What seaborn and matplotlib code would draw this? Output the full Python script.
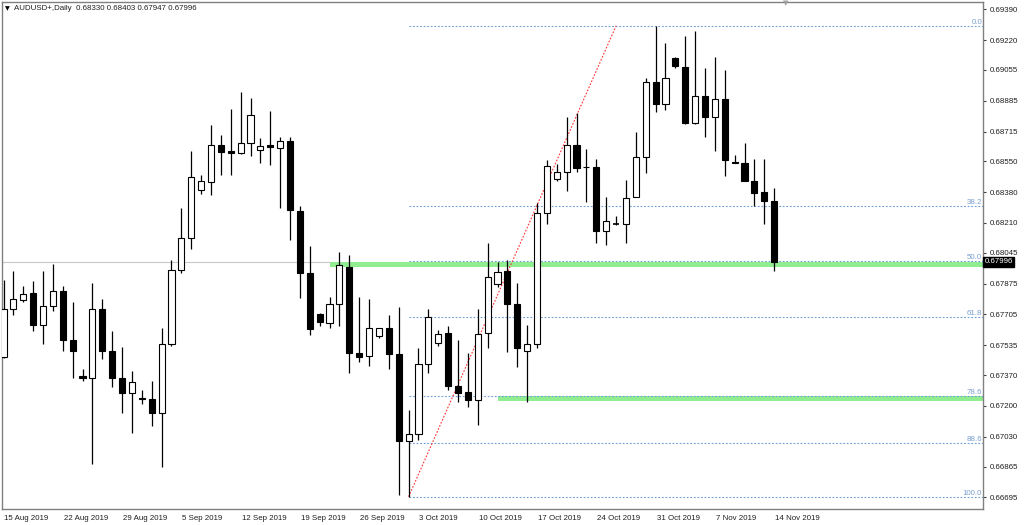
import matplotlib
matplotlib.use("Agg")
import matplotlib.pyplot as plt
import matplotlib.transforms as mtransforms
import seaborn as sns

# ---------------- data ----------------
title_text = "AUDUSD+,Daily  0.68330 0.68403 0.67947 0.67996"

opens = [0.67470, 0.67733, 0.67783, 0.67825, 0.67647, 0.67751, 0.67833, 0.67565, 0.67365, 0.67352,
         0.67735, 0.67503, 0.67356, 0.67273, 0.67243, 0.67236, 0.67162, 0.67540, 0.67949, 0.68127,
         0.68392, 0.68438, 0.68639, 0.68607, 0.68598, 0.68650, 0.68611, 0.68639, 0.68626, 0.68663,
         0.68278, 0.67932, 0.67706, 0.67659, 0.67761, 0.67968, 0.67490, 0.67475, 0.67587, 0.67632,
         0.67485, 0.67006, 0.67043, 0.67429, 0.67545, 0.67601, 0.67311, 0.67275, 0.67231, 0.67601,
         0.67871, 0.67945, 0.67763, 0.67505, 0.67540, 0.68267, 0.68454, 0.68490, 0.68639, 0.68521,
         0.68517, 0.68166, 0.68204, 0.68203, 0.68352, 0.68573, 0.68990, 0.68867, 0.69119, 0.69073,
         0.68760, 0.68911, 0.68797, 0.68893, 0.68548, 0.68543, 0.68443, 0.68381, 0.68330]
highs = [0.67895, 0.67943, 0.67862, 0.67888, 0.67943, 0.67983, 0.67862, 0.67772, 0.67402, 0.67877,
         0.67790, 0.67615, 0.67527, 0.67393, 0.67288, 0.67337, 0.67632, 0.68005, 0.68294, 0.68607,
         0.68475, 0.68749, 0.68696, 0.68838, 0.68935, 0.68898, 0.68678, 0.68830, 0.68686, 0.68686,
         0.68304, 0.68084, 0.67713, 0.67803, 0.68048, 0.68033, 0.67803, 0.67788, 0.67632, 0.67700,
         0.67748, 0.67177, 0.67521, 0.67733, 0.67619, 0.67643, 0.67564, 0.67490, 0.67735, 0.68098,
         0.67993, 0.68005, 0.67880, 0.67647, 0.68322, 0.68558, 0.68534, 0.68794, 0.68816, 0.68617,
         0.68563, 0.68352, 0.68250, 0.68446, 0.68711, 0.69012, 0.69298, 0.69202, 0.69128, 0.69243,
         0.69272, 0.69064, 0.69128, 0.69055, 0.68585, 0.68650, 0.68563, 0.68563, 0.68403]
lows = [0.67464, 0.67700, 0.67774, 0.67612, 0.67540, 0.67722, 0.67503, 0.67352, 0.67337, 0.66877,
        0.67457, 0.67306, 0.67162, 0.67052, 0.67210, 0.67089, 0.66864, 0.67531, 0.67935, 0.68065,
        0.68368, 0.68364, 0.68475, 0.68475, 0.68591, 0.68580, 0.68543, 0.68530, 0.68294, 0.68116,
        0.67794, 0.67591, 0.67643, 0.67628, 0.67643, 0.67380, 0.67444, 0.67420, 0.67573, 0.67402,
        0.66708, 0.66698, 0.67011, 0.67380, 0.67531, 0.67288, 0.67223, 0.67195, 0.67094, 0.67521,
        0.67858, 0.67499, 0.67416, 0.67223, 0.67521, 0.68203, 0.68443, 0.68388, 0.68493, 0.68327,
        0.68101, 0.68087, 0.68200, 0.68101, 0.68352, 0.68484, 0.68821, 0.68834, 0.69064, 0.68755,
        0.68755, 0.68683, 0.68609, 0.68469, 0.68540, 0.68440, 0.68304, 0.68204, 0.67947]
closes = [0.67735, 0.67788, 0.67816, 0.67647, 0.67750, 0.67833, 0.67565, 0.67503, 0.67356, 0.67735,
          0.67503, 0.67356, 0.67273, 0.67333, 0.67238, 0.67162, 0.67540, 0.67949, 0.68125, 0.68466,
          0.68440, 0.68639, 0.68604, 0.68598, 0.68650, 0.68805, 0.68633, 0.68630, 0.68663, 0.68282,
          0.67935, 0.67623, 0.67665, 0.67761, 0.67976, 0.67490, 0.67471, 0.67628, 0.67632, 0.67485,
          0.67006, 0.67043, 0.67429, 0.67692, 0.67598, 0.67311, 0.67269, 0.67232, 0.67598, 0.67913,
          0.67938, 0.67761, 0.67520, 0.67540, 0.68267, 0.68525, 0.68493, 0.68639, 0.68512, 0.68517,
          0.68166, 0.68221, 0.68201, 0.68350, 0.68573, 0.68990, 0.68867, 0.69009, 0.69077, 0.68760,
          0.68911, 0.68797, 0.68893, 0.68558, 0.68542, 0.68443, 0.68377, 0.68331, 0.67996]

tick_bars = [0, 6, 12, 18, 24, 30, 36, 42, 48, 54, 60, 66, 72, 78]
tick_labels = ["15 Aug 2019", "22 Aug 2019", "29 Aug 2019", "5 Sep 2019", "12 Sep 2019",
               "19 Sep 2019", "26 Sep 2019", "3 Oct 2019", "10 Oct 2019", "17 Oct 2019",
               "24 Oct 2019", "31 Oct 2019", "7 Nov 2019", "14 Nov 2019"]
price_ticks = [0.69390, 0.69220, 0.69055, 0.68885, 0.68715, 0.68550, 0.68380, 0.68210, 0.68045,
               0.67875, 0.67705, 0.67535, 0.67370, 0.67200, 0.67030, 0.66865, 0.66695]

fib_levels = [0.0, 38.2, 50.0, 61.8, 78.6, 88.6, 100.0]
fib_high = 0.69298
fib_low = 0.66698
fib_low_bar = 41
fib_high_bar = 62

zone_tops = [0.67996, 0.67254]
zone_bottoms = [0.67967, 0.67226]
zone_start_bars = [33, 50]

last_price = 0.67996

# ---------------- style ----------------
sns.set_theme(style="white")
plt.rcParams['font.family'] = ['Liberation Sans', 'DejaVu Sans']
FS = 5.7

W, H = 1024, 525
fig = plt.figure(figsize=(W / 100, H / 100), dpi=100)
fig.patch.set_facecolor("white")
L, R, T, B = 2, 983, 2, 509
ax = fig.add_axes([L / W, 1 - B / H, (R - L) / W, (B - T) / H])
ax.set_facecolor("white")

x_px0, x_step = 3.5, 9.88
xmin = (L - x_px0) / x_step
xmax = (R - x_px0) / x_step
k = 0.000055225
p0 = 0.69390 + 9.3 * k
ax.set_xlim(xmin, xmax)
ax.set_ylim(p0 - B * k, p0 - T * k)

n = len(opens)
xs = list(range(n))

# current price line
ax.axhline(last_price, color="#c8c8c8", lw=0.8, zorder=0.5)

# zones
for top, bot, sb in zip(zone_tops, zone_bottoms, zone_start_bars):
    ax.fill_between([sb, xmax], bot, top, color="#90ee90", lw=0, zorder=1)

# fib levels
rng = fib_high - fib_low
for lvl in fib_levels:
    p = fib_high - lvl / 100.0 * rng
    ax.hlines(p, fib_low_bar, xmax, colors="#6f9fd8", linestyles=(0, (1.6, 1.6)), lw=0.8, zorder=2)
    ax.text(xmax - 0.1, p, f"{lvl:.1f}", ha="right", va="bottom", fontsize=FS,
            color="#7a9fd0", zorder=5)
ax.plot([fib_low_bar, fib_high_bar], [fib_low, fib_high], color="#ff3030",
        ls=(0, (1.5, 1.5)), lw=0.8, zorder=2)

# candles
ax.vlines(xs, lows, highs, color="black", lw=0.9, zorder=3)
bw = 0.62
for i in xs:
    o, c = opens[i], closes[i]
    bot = min(o, c)
    h = abs(c - o)
    face = "white" if c > o else "black"
    if h < 0.00003:
        ax.hlines((o + c) / 2, i - bw / 2, i + bw / 2, color="black", lw=1.2, zorder=4)
    else:
        ax.bar(i, h, bottom=bot, width=bw, color=face, edgecolor="black", lw=0.8, zorder=4)

# axes styling
for s in ax.spines.values():
    s.set_color("#808080")
    s.set_linewidth(1.0)
ax.yaxis.tick_right()
ax.set_yticks(price_ticks)
ax.set_yticklabels([f"{p:.5f}" for p in price_ticks])
ax.tick_params(axis="y", direction="out", length=2.5, width=0.8, color="#404040",
               labelsize=FS, pad=2, labelcolor="#202020")
ax.set_xticks(tick_bars)
ax.set_xticklabels(tick_labels)
ax.tick_params(axis="x", direction="out", length=3, width=0.8, color="#404040",
               labelsize=FS, pad=1.5, labelcolor="#202020")
offset = mtransforms.ScaledTranslation(1 / 100, 0, fig.dpi_scale_trans)
for lab in ax.get_xticklabels():
    lab.set_ha("left")
    lab.set_transform(lab.get_transform() + offset)
ax.grid(False)

# current price box on the axis
trans = mtransforms.blended_transform_factory(ax.transAxes, ax.transData)
ax.text(1.0015, last_price, f"{last_price:.5f}", transform=trans, ha="left", va="center",
        fontsize=FS, color="white", zorder=10, clip_on=False,
        bbox=dict(boxstyle="square,pad=0.2", fc="black", ec="black"))

# header
fig.text(5 / W, 1 - 9 / H, "\u25bc", fontsize=4.5, ha="left", va="center", color="black",
         family="DejaVu Sans")
fig.text(14 / W, 1 - 9 / H, title_text, fontsize=FS, ha="left", va="center", color="#202020")
# chart shift marker
fig.text(786 / W, 1 - 3 / H, "\u25bc", fontsize=5, ha="center", va="center", color="#a0a0a0",
         family="DejaVu Sans")

fig.savefig("out.png", dpi=100, facecolor="white")
